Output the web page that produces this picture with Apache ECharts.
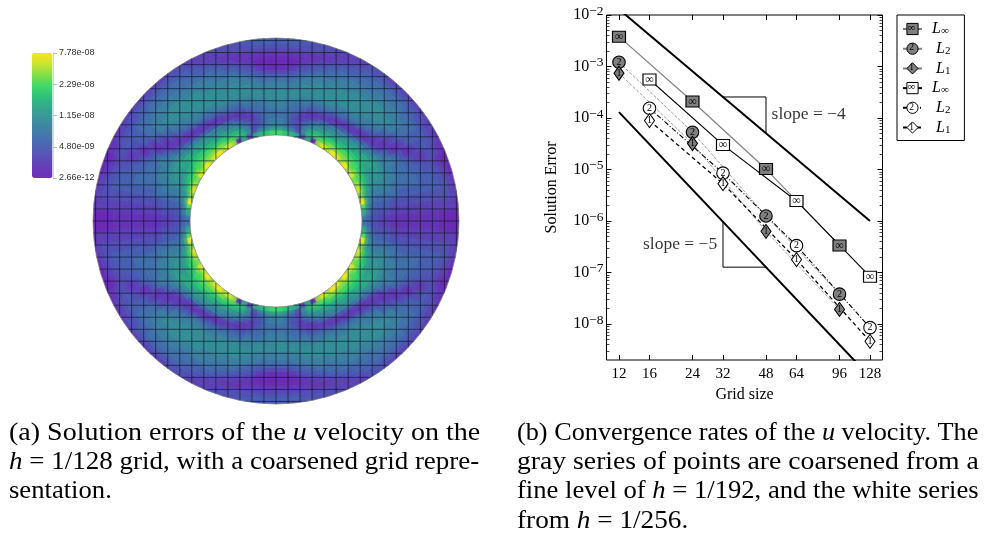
<!DOCTYPE html>
<html><head><meta charset="utf-8">
<style>html,body{margin:0;padding:0;background:#fff}#c{width:990px;height:535px}</style>
<script src="https://cdn.jsdelivr.net/npm/echarts@6/dist/echarts.min.js"></script>
</head><body><div id="c"></div>
<script>
// ---------- Convergence data ----------
const gridSizeTicks = [12,16,24,32,48,64,96,128];
const errorDecades = [1e-8,1e-7,1e-6,1e-5,1e-4,1e-3,1e-2];
const coarseSizes = [12,24,48,96];
const fineSizes = [16,32,64,128];
const grayLinf = [3.8e-3,2.09e-4,1.02e-5,3.33e-7];
const grayL2   = [1.21e-3,5.3e-5,1.25e-6,3.8e-8];
const grayL1   = [7.4e-4,3.2e-5,6.3e-7,1.92e-8];
const whiteLinf= [5.6e-4,3.0e-5,2.45e-6,8.3e-8];
const whiteL2  = [1.55e-4,8.5e-6,3.33e-7,8.5e-9];
const whiteL1  = [8.9e-5,5.3e-6,1.78e-7,4.6e-9];
const slope4Line = [[12,1.29e-2],[128,1e-6]];
const slope5Line = [[12,1.3e-4],[128,9.4e-10]];
const slope4Tri = [[32,2.56e-4],[48,2.56e-4],[48,5.06e-5]];
const slope5Tri = [[32,9.6e-7],[32,1.27e-7],[48,1.27e-7]];
// ---------- Colour bar ----------
const colorbarLabels = ['2.66e-12','4.80e-09','1.15e-08','2.29e-08','7.78e-08'];
const viridisLike = ['#6f2fb8','#6a3ab8','#6147b8','#5656b6','#4c65b3','#4674ad','#4083a4','#3b919b','#36a092','#31b286','#2fc679','#3fd86a','#6fdd52','#a6e23a','#d8e52a','#f5e61f'];
// ---------- Error field: one quadrant, hex colour levels; rows = rings outer to inner, columns = sectors from horizontal to vertical ----------
const errorRings = [
"012100112222223322333444",
"022210122333333322233344",
"023321233344444432223333",
"023332334445555443211222",
"023433344555555544321111",
"123443234556665555432100",
"123443134566666665543200",
"123444224566776666554310",
"123444313567777766665432",
"123454412467777777666544",
"123455431356777777776655",
"123455541246677777777666",
"123455552135667777777766",
"123455564124566667777777",
"123456665212355566666777",
"123556666421123445556667",
"123566777653211123445566",
"234567788766543211124556",
"234567889988776654212455",
"234567788998887766531355",
"334567889aaa998887653356",
"3456789aabbbbaaa99862456",
"45688abbcbcccccbbba82567",
"58bfcedcedfdefded19289ab"];
const outerRadius = 183, innerRadius = 86, coarseSpacing = 12.03;
const coarseLineIndex = [-15,-14,-13,-12,-11,-10,-9,-8,-7,-6,-5,-4,-3,-2,-1,0,1,2,3,4,5,6,7,8,9,10,11,12,13,14,15];

const serif = '"Liberation Serif","Times New Roman",serif';
const ringW = (outerRadius-innerRadius)/errorRings.length;
const secW = 90/errorRings[0].length;
const cells = [];
errorRings.forEach((row,j)=>{ for(let i=0;i<row.length;i++){ const lv=parseInt(row[i],16);
  [[-1,1],[1,1],[-1,-1],[1,-1]].forEach(q=>cells.push([q[0],q[1],i,j,lv])); }});
function cellItem(params,api){
  const sx=api.value(0),sy=api.value(1),i=api.value(2),j=api.value(3);
  const r1=outerRadius-j*ringW, r0=r1-ringW, a0=i*secW*Math.PI/180, a1=(i+1)*secW*Math.PI/180;
  const pts=[];
  for(let k=0;k<=4;k++){const a=a0+(a1-a0)*k/4; pts.push(api.coord([sx*r1*Math.cos(a),sy*r1*Math.sin(a)]));}
  for(let k=4;k>=0;k--){const a=a0+(a1-a0)*k/4; pts.push(api.coord([sx*r0*Math.cos(a),sy*r0*Math.sin(a)]));}
  const c=api.visual('color');
  return {type:'polygon',shape:{points:pts},style:{fill:c,stroke:c,lineWidth:.6,shadowBlur:5,shadowColor:c}};
}
// white masks trimming the soft cell edges to the annulus
function maskItem(params,api){
  const c=api.coord([0,0]), e=api.coord([outerRadius,0]), n=api.coord([innerRadius,0]);
  return {type:'group',children:[
    {type:'circle',shape:{cx:c[0],cy:c[1],r:n[0]-c[0]},style:{fill:'#fff'}},
    {type:'circle',shape:{cx:c[0],cy:c[1],r:e[0]-c[0]+5},style:{fill:'none',stroke:'#fff',lineWidth:10}}]};
}
// coarse-mesh line segments clipped to the annulus
const meshSegs=[];
coarseLineIndex.forEach(k=>{ const p=k*coarseSpacing; if(Math.abs(p)>=outerRadius) return;
  const o=Math.sqrt(outerRadius*outerRadius-p*p);
  const spans=Math.abs(p)<innerRadius?(()=>{const n=Math.sqrt(innerRadius*innerRadius-p*p);return [[n,o],[-o,-n]];})():[[-o,o]];
  spans.forEach(s=>{meshSegs.push([p,s[0],p,s[1]]);meshSegs.push([s[0],p,s[1],p]);});
});
function meshItem(params,api){
  const a=api.coord([api.value(0),api.value(1)]),b=api.coord([api.value(2),api.value(3)]);
  return {type:'line',shape:{x1:a[0],y1:a[1],x2:b[0],y2:b[1]},style:{stroke:'rgba(12,18,40,.62)',lineWidth:1}};
}
function rimItem(params,api){
  const c=api.coord([0,0]), e=api.coord([api.value(0),0]);
  return {type:'circle',shape:{cx:c[0],cy:c[1],r:e[0]-c[0]},style:{fill:'none',stroke:'#777',lineWidth:.7}};
}
const pairs=(xs,ys)=>xs.map((x,i)=>[x,ys[i]]);
const minorValues=[]; for(let e=-9;e<=-3;e++) for(let m=2;m<=9;m++){const v=m*Math.pow(10,e); if(v>2e-9&&v<1e-2) minorValues.push(v);}
function mark(name,xs,ys,shape,size,fill,dash,lw,lineColor,glyph,fs){
  return {name,type:'line',xAxisIndex:1,yAxisIndex:1,data:pairs(xs,ys),symbol:shape,symbolSize:size,
    showAllSymbol:true,animation:false,clip:true,z:5,
    itemStyle:{color:fill,borderColor:'#000',borderWidth:1.1,opacity:1},
    lineStyle:{color:lineColor,width:lw,type:dash},
    label:{show:true,position:'inside',formatter:glyph,fontFamily:serif,fontSize:fs,color:'#000',distance:0},
    emphasis:{disabled:true}};
}
function guide(data,lw){return {type:'line',xAxisIndex:1,yAxisIndex:1,data,symbol:'none',lineStyle:{color:'#000',width:lw},animation:false,z:3,silent:true};}
function note(x,y,txt,pos){return {type:'scatter',xAxisIndex:1,yAxisIndex:1,data:[[x,y]],symbolSize:0,silent:true,animation:false,z:6,
  label:{show:true,position:pos,distance:0,formatter:txt,fontFamily:serif,fontSize:17.5,color:'#000'}};}
const names=['L∞ gray','L2 gray','L1 gray','L∞ white','L2 white','L1 white'];
const legendGlyphs=['∞','2','1','∞','2','1'];
const legendRowY=[28,47.8,67.6,87.4,107.2,127];
const subs={r:{fontFamily:serif,fontStyle:'italic',fontSize:16,color:'#000'},sb:{fontFamily:serif,fontSize:11,color:'#000',padding:[5,0,0,0]},pad:{width:4}};
const capRich={i:{fontFamily:serif,fontStyle:'italic',fontSize:25,fill:'#000'}};
function cap(x,y,scaleX,t){return {type:'text',x,y,scaleX,z:20,silent:true,style:{text:t,fontFamily:serif,fontSize:25,fill:'#000',rich:capRich,verticalAlign:'middle',align:'left'}};}

const option={
 animation:false,backgroundColor:'#fff',
 grid:[
  {id:'heat',left:93,top:38,width:366,height:366,show:false},
  {id:'conv',left:606.5,top:15,width:276,height:345,show:true,borderColor:'#000',borderWidth:1,backgroundColor:'transparent'},
  {id:'bar',left:53,top:53,width:1,height:125,show:false}
 ],
 xAxis:[
  {gridIndex:0,type:'value',min:-183,max:183,show:false},
  {gridIndex:1,type:'log',logBase:2,min:10.667,max:144,position:'bottom',name:'Grid size',nameLocation:'middle',nameGap:27,
   nameTextStyle:{fontFamily:serif,fontSize:16,color:'#000'},
   axisLine:{show:false},splitLine:{show:false},minorTick:{show:false},
   axisTick:{show:true,inside:true,length:5,lineStyle:{color:'#000'},customValues:gridSizeTicks},
   axisLabel:{customValues:gridSizeTicks,fontFamily:serif,fontSize:15,color:'#000',margin:7,formatter:v=>String(Math.round(v)),hideOverlap:false}},
  {gridIndex:1,type:'log',logBase:2,min:10.667,max:144,position:'top',axisLine:{show:false},splitLine:{show:false},
   axisTick:{show:true,inside:true,length:5,lineStyle:{color:'#000'},customValues:gridSizeTicks},axisLabel:{show:false}},
  {gridIndex:2,type:'value',show:false}
 ],
 yAxis:[
  {gridIndex:0,type:'value',min:-183,max:183,show:false},
  {gridIndex:1,type:'log',min:2e-9,max:1e-2,position:'left',name:'Solution Error',nameLocation:'middle',nameGap:47,nameRotate:90,
   nameTextStyle:{fontFamily:serif,fontSize:16,color:'#000'},
   axisLine:{show:false},splitLine:{show:false},
   axisTick:{show:true,inside:true,length:5,lineStyle:{color:'#000'},customValues:errorDecades},
   axisLabel:{customValues:errorDecades,margin:3,hideOverlap:false,showMinLabel:true,showMaxLabel:true,
     formatter:v=>'{b|10}{s|−'+Math.abs(Math.round(Math.log10(v)))+'}',
     rich:{b:{fontFamily:serif,fontSize:16,color:'#000'},s:{fontFamily:serif,fontSize:13.5,color:'#000',padding:[0,0,8,0]}}}},
  {gridIndex:1,type:'log',min:2e-9,max:1e-2,position:'left',axisLine:{show:false},splitLine:{show:false},axisLabel:{show:false},
   axisTick:{show:true,inside:true,length:3,lineStyle:{color:'#000',width:.7},customValues:minorValues}},
  {gridIndex:1,type:'log',min:2e-9,max:1e-2,position:'right',axisLine:{show:false},splitLine:{show:false},axisLabel:{show:false},
   axisTick:{show:true,inside:true,length:5,lineStyle:{color:'#000'},customValues:errorDecades}},
  {gridIndex:1,type:'log',min:2e-9,max:1e-2,position:'right',axisLine:{show:false},splitLine:{show:false},axisLabel:{show:false},
   axisTick:{show:true,inside:true,length:3,lineStyle:{color:'#000',width:.7},customValues:minorValues}},
  {gridIndex:2,type:'category',position:'right',data:colorbarLabels,boundaryGap:false,z:10,
   axisLine:{show:true,lineStyle:{color:'#d9d4ee',width:1}},
   axisTick:{show:true,alignWithLabel:true,length:4,lineStyle:{color:'#bbb'},inside:false},
   axisLabel:{fontFamily:'"Liberation Sans",Arial,sans-serif',fontSize:9,color:'#333',margin:5,interval:0,hideOverlap:false}}
 ],
 visualMap:{type:'continuous',seriesIndex:0,dimension:4,min:0,max:15,left:27,top:48,itemWidth:20.5,itemHeight:125,text:['',''],
   itemSymbol:'rect',calculable:false,realtime:false,hoverLink:false,inRange:{color:viridisLike},padding:5,borderWidth:0},
 legend:{orient:'vertical',left:897,top:15,backgroundColor:'#fff',borderColor:'#000',borderWidth:1,padding:[6,14,5,5],
   itemWidth:19,itemHeight:14,itemGap:3.7,align:'left',data:names,selectedMode:false,
   itemStyle:{borderWidth:1},
   formatter:n=>{const t=names.indexOf(n)%3; return t===0?'{r|L}{sb|∞}':'{pad|}{r|L}{sb|'+(t===1?'2':'1')+'}';},
   textStyle:{rich:subs,padding:[0,0,0,5]}},
 series:[
  {type:'custom',xAxisIndex:0,yAxisIndex:0,coordinateSystem:'cartesian2d',renderItem:cellItem,data:cells,dimensions:['sx','sy','i','j','level'],encode:{x:2,y:3},progressive:0,animation:false,silent:true,z:1,clip:false},
  {type:'custom',xAxisIndex:0,yAxisIndex:0,renderItem:maskItem,data:[[0]],animation:false,silent:true,z:1.5,clip:false},
  {type:'custom',xAxisIndex:0,yAxisIndex:0,renderItem:meshItem,data:meshSegs,progressive:0,animation:false,silent:true,z:2},
  {type:'custom',xAxisIndex:0,yAxisIndex:0,renderItem:rimItem,data:[[outerRadius],[innerRadius]],animation:false,silent:true,z:3},
  guide(slope4Line,2), guide(slope5Line,2), guide(slope4Tri,1), guide(slope5Tri,1),
  note(50.6,1.15e-4,'slope = −4','right'), note(30.3,3.5e-7,'slope = −5','left'),
  mark(names[0],coarseSizes,grayLinf,'rect',[13,11],'#808080','solid',1.2,'#808080','∞',12),
  mark(names[1],coarseSizes,grayL2,'circle',12.5,'#808080','dashed',.8,'#808080','2',10),
  mark(names[2],coarseSizes,grayL1,'diamond',[10,14],'#808080','dashed',.8,'#808080','1',10),
  mark(names[3],fineSizes,whiteLinf,'rect',[13,11],'#fff','solid',1.1,'#000','∞',12),
  mark(names[4],fineSizes,whiteL2,'circle',12.5,'#fff',[5,2,1,2],1.1,'#000','2',10),
  mark(names[5],fineSizes,whiteL1,'diamond',[10,14],'#fff',[4,3],1.3,'#000','1',10)
 ],
 graphic:[
  cap(9,433,1.12,'(a) Solution errors of the {i|u} velocity on the'),
  cap(9,462,1.08,'{i|h} = 1/128 grid, with a coarsened grid repre-'),
  cap(9,491,1.065,'sentation.'),
  cap(517,433,1.05,'(b) Convergence rates of the {i|u} velocity. The'),
  cap(517,462,1.107,'gray series of points are coarsened from a'),
  cap(517,491,1.065,'fine level of {i|h} = 1/192, and the white series'),
  cap(517,521,1.09,'from {i|h} = 1/256.')
 ].concat(legendGlyphs.map((g,i)=>({type:'text',x:911.5,y:legendRowY[i],z:30,silent:true,
   style:{text:g,fontFamily:serif,fontSize:g==='∞'?11:9.5,fill:'#000',align:'center',verticalAlign:'middle'}})))
};
const chart=echarts.init(document.getElementById('c'),null,{renderer:'canvas'});
chart.setOption(option);
</script></body></html>
